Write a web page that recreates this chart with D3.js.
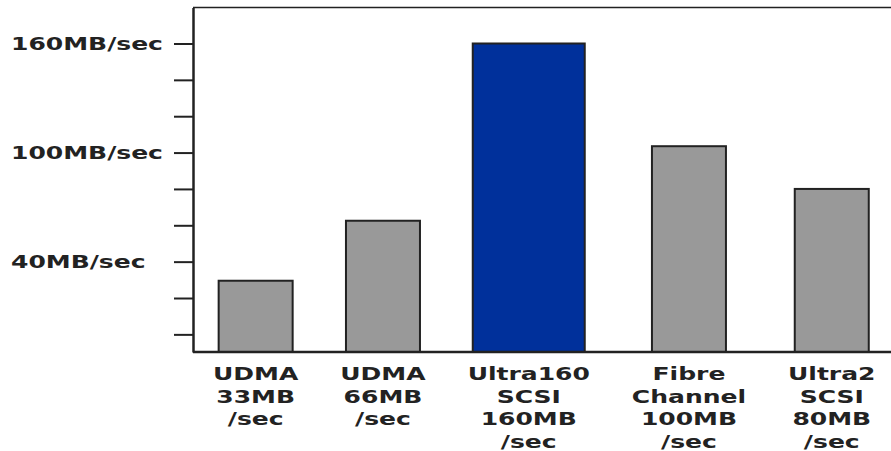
<!DOCTYPE html>
<html>
<head>
<meta charset="utf-8">
<script src="https://cdn.jsdelivr.net/npm/d3@7"></script>
<style>
  html, body { margin: 0; padding: 0; background: #ffffff; overflow: hidden; }
  svg { display: block; }
  text { font-family: "DejaVu Sans", Verdana, sans-serif; font-weight: bold; fill: #222; }
</style>
</head>
<body>
<svg id="chart" width="891" height="451"></svg>
<script>
// ---- data ----
const categories = ["UDMA 33MB /sec", "UDMA 66MB /sec", "Ultra160 SCSI 160MB /sec", "Fibre Channel 100MB /sec", "Ultra2 SCSI 80MB /sec"];
const labelLines = [["UDMA", "33MB", "/sec"], ["UDMA", "66MB", "/sec"], ["Ultra160", "SCSI", "160MB", "/sec"], ["Fibre", "Channel", "100MB", "/sec"], ["Ultra2", "SCSI", "80MB", "/sec"]];
const values = [29.5, 62.5, 160, 103.5, 80];
const highlighted = "Ultra160 SCSI 160MB /sec";
const tickValues = [0, 20, 40, 60, 80, 100, 120, 140, 160];
const tickLabels = ["", "", "40MB/sec", "", "", "100MB/sec", "", "", "160MB/sec"];
const yDomain = [-9.7, 179.8];

// ---- layout ----
const W = 891, H = 451;
const plotLeft = 193, plotTop = 7.5, plotBottom = 352;
const stretch = 1.39;       // horizontally stretched lettering
const fontSize = 18;
const lineGap = 22.7;
const firstLine = 380;
const colStart = 213;       // left edge of first label column
const colGap = 42;          // gap between label columns (table-like layout)
const barW = 74, wideBarW = 112;

const svg = d3.select("#chart");
const ink = "#222";

const y = d3.scaleLinear().domain(yDomain).range([plotBottom, plotTop]);

// x labels first: column widths come from the longest line (auto table layout)
const bars = categories.map((c, i) => ({ c, v: values[i], lines: labelLines[i] }));
const lg = svg.append("g").selectAll("g").data(bars).join("g");
lg.selectAll("text").data(d => d.lines).join("text")
  .attr("transform", (t, j) => `translate(0,${firstLine + j * lineGap}) scale(${stretch},1)`)
  .attr("text-anchor", "middle")
  .attr("font-size", fontSize)
  .text(t => t);

const colWidths = [];
lg.each(function () {
  let m = 0;
  d3.select(this).selectAll("text").each(function () { m = Math.max(m, this.getComputedTextLength()); });
  colWidths.push(m * stretch);
});
const centers = [];
let acc = colStart;
colWidths.forEach(w => { centers.push(acc + w / 2); acc += w + colGap; });
const x = d3.scaleOrdinal().domain(categories).range(centers);

lg.attr("transform", d => `translate(${x(d.c)},0)`);

// top frame line
svg.append("line").attr("x1", plotLeft).attr("x2", W + 5)
  .attr("y1", y.range()[1]).attr("y2", y.range()[1])
  .attr("stroke", ink).attr("stroke-width", 1.7);

// bars
const bw = d => d.c === highlighted ? wideBarW : barW;
svg.append("g").selectAll("rect").data(bars).join("rect")
  .attr("x", d => x(d.c) - bw(d) / 2)
  .attr("width", bw)
  .attr("y", d => y(d.v))
  .attr("height", d => y.range()[0] - y(d.v))
  .attr("fill", d => d.c === highlighted ? "#00309b" : "#999999")
  .attr("stroke", ink).attr("stroke-width", 2);

// bottom line
svg.append("line").attr("x1", plotLeft).attr("x2", W + 5)
  .attr("y1", y.range()[0]).attr("y2", y.range()[0])
  .attr("stroke", ink).attr("stroke-width", 2.5);

// y axis
const axis = d3.axisLeft(y).tickValues(tickValues).tickSize(19).tickSizeOuter(0).tickFormat("");
const ag = svg.append("g").attr("transform", `translate(${plotLeft},0)`).call(axis);
ag.select(".domain").attr("stroke", ink).attr("stroke-width", 2.5);
ag.selectAll(".tick line").attr("stroke", ink).attr("stroke-width", 2);

// y labels (left aligned)
svg.append("g").selectAll("text").data(tickValues.map((v, i) => ({ v, t: tickLabels[i] })).filter(d => d.t))
  .join("text")
  .attr("transform", d => `translate(11,${y(d.v) + 6.6}) scale(${stretch},1)`)
  .attr("font-size", fontSize)
  .text(d => d.t);
</script>
</body>
</html>
